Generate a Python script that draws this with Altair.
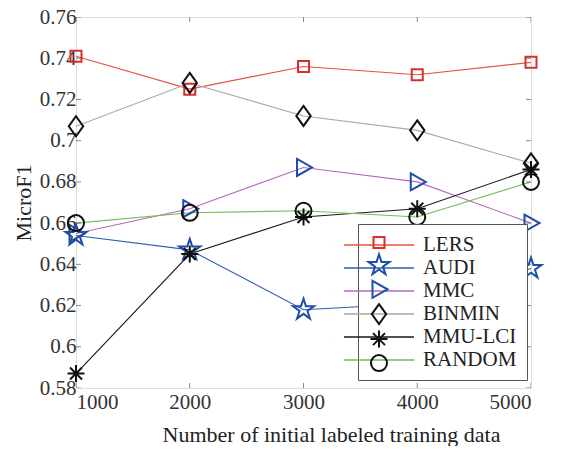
import altair as alt
import pandas as pd

x_vals = [1000, 2000, 3000, 4000, 5000]
series = ["LERS", "AUDI", "MMC", "BINMIN", "MMU-LCI", "RANDOM"]
lers = [0.741, 0.725, 0.736, 0.732, 0.738]
audi = [0.654, 0.647, 0.618, 0.621, 0.638]
mmc = [0.655, 0.667, 0.687, 0.680, 0.660]
binmin = [0.707, 0.728, 0.712, 0.705, 0.689]
mmulci = [0.587, 0.645, 0.663, 0.667, 0.686]
random_ = [0.660, 0.665, 0.666, 0.663, 0.680]
values = [lers, audi, mmc, binmin, mmulci, random_]

x_ticks = [1000, 2000, 3000, 4000, 5000]
y_ticks = [0.58, 0.60, 0.62, 0.64, 0.66, 0.68, 0.70, 0.72, 0.74, 0.76]

line_colors = ["#e5533f", "#2f5eae", "#b868c2", "#a9a9a9", "#1a1a1a", "#72c052"]
marker_colors = ["#d92f2a", "#1f4ea8", "#1f4ea8", "#111111", "#111111", "#111111"]

SQUARE = "M-0.55,-0.55L0.55,-0.55L0.55,0.55L-0.55,0.55Z"
STAR = ("M0,-1.1L0.246,-0.338L1.046,-0.34L0.398,0.129L0.647,0.89L0,0.418"
        "L-0.647,0.89L-0.398,0.129L-1.046,-0.34L-0.246,-0.338Z")
TRI = "M-0.65,-0.85L0.85,0L-0.65,0.85Z"
DIAM = "M0,-1L0.72,0L0,1L-0.72,0Z"
ASTER = "M-0.85,0L0.85,0M0,-0.85L0,0.85M-0.6,-0.6L0.6,0.6M-0.6,0.6L0.6,-0.6"
CIRC = "M0.8,0A0.8,0.8,0,1,1,-0.8,0A0.8,0.8,0,1,1,0.8,0Z"
shapes = [SQUARE, STAR, TRI, DIAM, ASTER, CIRC]
LINE_SYM = "M-4.5,0L-4.49,0M-3.5,0L3.5,0"

rows = []
for s, vals in zip(series, values):
    for x, v in zip(x_vals, vals):
        rows.append({"n": x, "f1": v, "method": s})
df = pd.DataFrame(rows)

FONT = "Times New Roman, Liberation Serif, serif"
xs = alt.Scale(domain=[1000, 5000], nice=False, zero=False)
ys = alt.Scale(domain=[0.58, 0.76], nice=False, zero=False)

X = alt.X("n:Q", scale=xs,
          axis=alt.Axis(values=x_ticks, format="d", title="Number of initial labeled training data",
                        labelPadding=3, titlePadding=12, titleX=255,
                        labelFont=FONT, titleFont=FONT))
Y = alt.Y("f1:Q", scale=ys,
          axis=alt.Axis(values=y_ticks, format=".2~f", title="MicroF1",
                        labelPadding=0, titlePadding=4,
                        labelFont=FONT, titleFont=FONT))

LX, LY = 282, 207

lines = alt.Chart(df).mark_line(strokeWidth=1.1).encode(
    x=X, y=Y,
    color=alt.Color("method:N", scale=alt.Scale(domain=series, range=line_colors),
                    sort=series,
                    legend=alt.Legend(title=None, orient="none", legendX=LX, legendY=LY,
                                      symbolType=LINE_SYM, symbolSize=400,
                                      symbolStrokeWidth=1.3, labelFont=FONT,
                                      labelFontSize=21, labelColor="#222",
                                      labelOffset=33, rowPadding=2, padding=10,
                                      strokeColor="#555", fillColor="white", zindex=0)),
    order=alt.value(0),
)

points = alt.Chart(df).mark_point(filled=False, strokeWidth=2, opacity=1, size=400).encode(
    x="n:Q", y="f1:Q",
    stroke=alt.Stroke("method:N", scale=alt.Scale(domain=series, range=marker_colors),
                      sort=series,
                      legend=alt.Legend(title=None, orient="none", legendX=LX, legendY=LY - 2.5,
                                        labelExpr="''", labelFontSize=1, symbolSize=400,
                                        labelOffset=0, rowPadding=-2.2, padding=10,
                                        symbolStrokeWidth=2, zindex=1)),
    shape=alt.Shape("method:N", scale=alt.Scale(domain=series, range=shapes), sort=series),
)

xt = pd.DataFrame({"t": x_ticks * 2, "edge": [0.58] * 5 + [0.76] * 5})
yt = pd.DataFrame({"t": y_ticks * 2, "edge": [1000] * 10 + [5000] * 10})
xtick = alt.Chart(xt).mark_tick(orient="vertical", size=10, thickness=1, color="#555", clip=True).encode(
    x="t:Q", y="edge:Q")
ytick = alt.Chart(yt).mark_tick(orient="horizontal", size=10, thickness=1, color="#555", clip=True).encode(
    x="edge:Q", y="t:Q")

chart = alt.layer(lines, points, xtick, ytick).resolve_scale(
    color="independent"
).properties(
    width=455, height=371,
    autosize=alt.AutoSizeParams(type="none"),
    padding={"left": 68, "top": 9, "right": 25, "bottom": 58},
).configure_view(stroke="#555", strokeWidth=1.2).configure(
    background="white", font=FONT
).configure_axis(
    domain=False, ticks=False, grid=False,
    labelFont=FONT, labelFontSize=21, labelColor="#333",
    titleFont=FONT, titleFontSize=22, titleFontWeight="normal", titleColor="#222",
)

chart.save("out.html", embed_options={"renderer": "svg", "actions": False})
